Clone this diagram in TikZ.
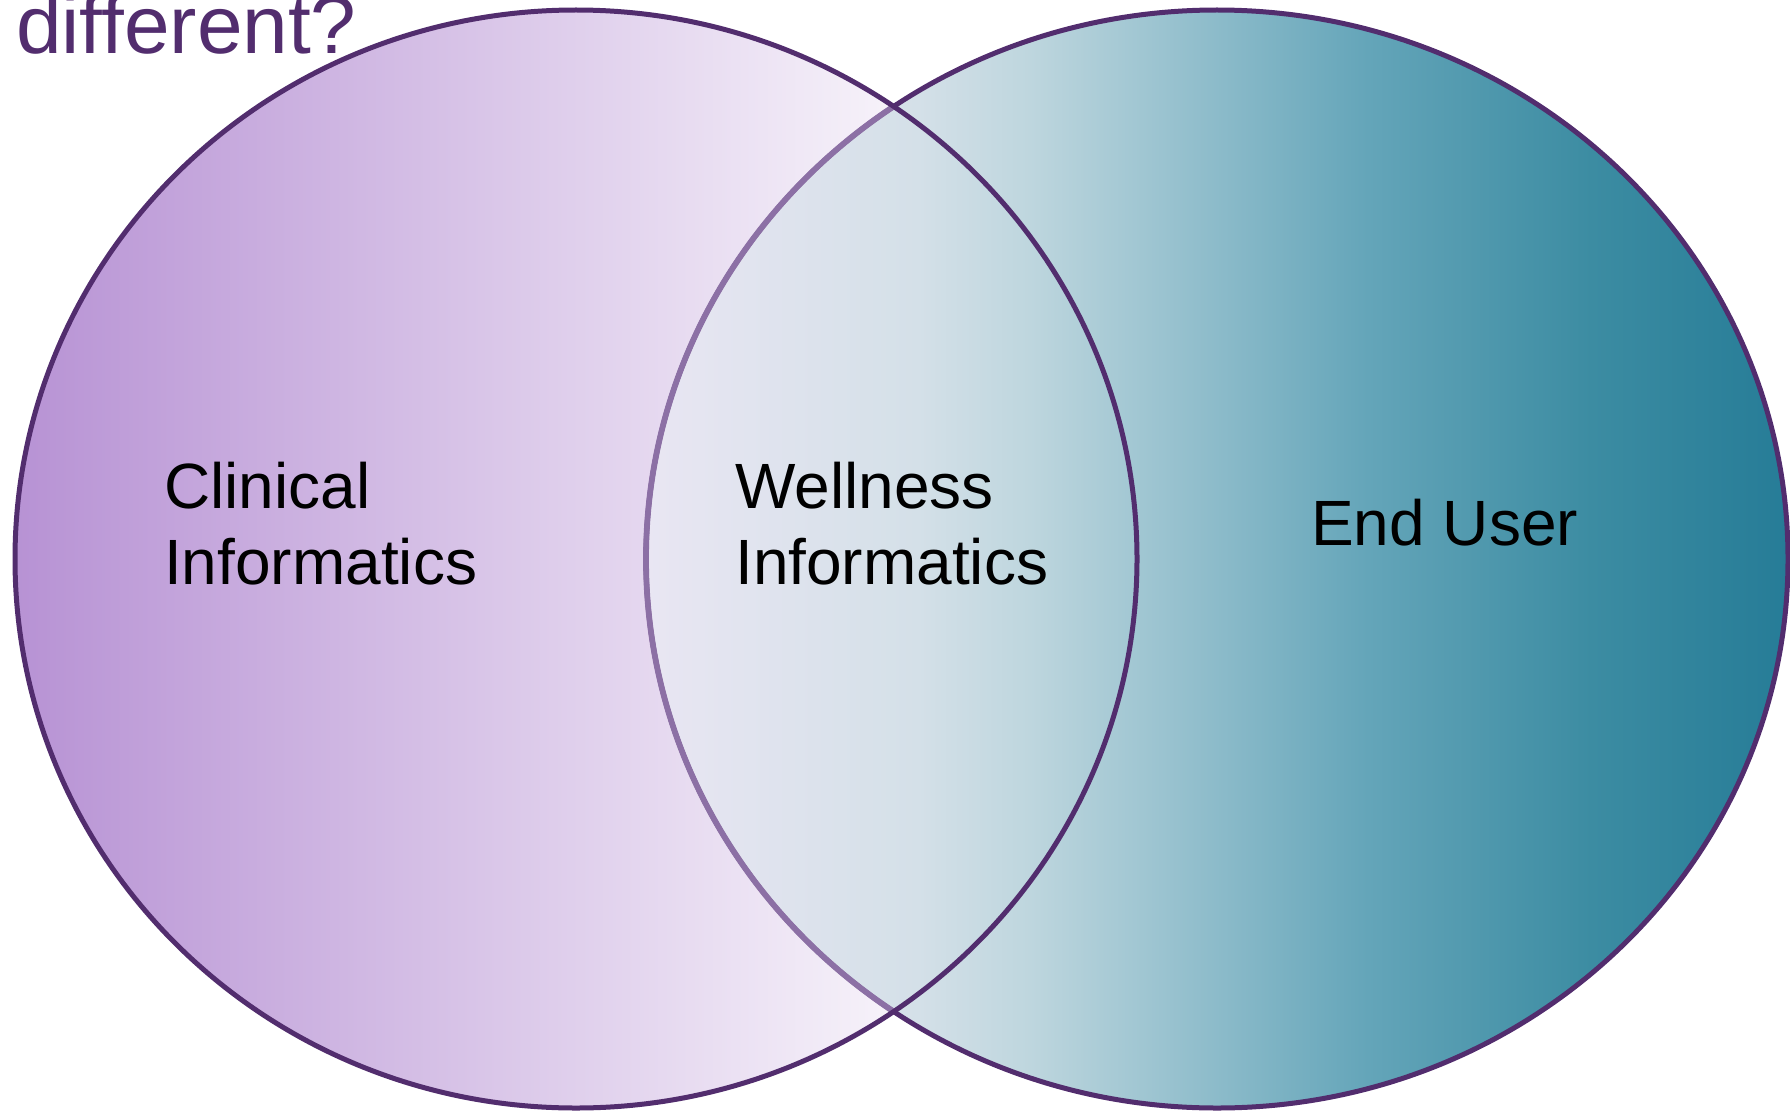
\documentclass[tikz,border=0pt]{standalone}
\usepackage{fontspec}
\setmainfont{Liberation Sans}
\definecolor{outline}{RGB}{82,45,110}
\definecolor{innerline}{RGB}{140,112,165}
\definecolor{La}{RGB}{183,146,212}
\definecolor{Lb}{RGB}{247,243,250}
\definecolor{Lc}{RGB}{250,248,252}
\definecolor{Ra}{RGB}{233,230,243}
\definecolor{Rb}{RGB}{212,224,232}
\definecolor{Rc}{RGB}{190,214,222}
\definecolor{Rd}{RGB}{160,198,210}
\definecolor{Re}{RGB}{100,165,185}
\definecolor{Rf}{RGB}{60,140,162}
\definecolor{Rg}{RGB}{38,124,151}
\pgfdeclarehorizontalshading{leftshade}{100bp}{color(0bp)=(La); color(25bp)=(La); color(64.4bp)=(Lb); color(75bp)=(Lc); color(100bp)=(Lc)}
\pgfdeclarehorizontalshading{rightshade}{100bp}{color(0bp)=(Ra); color(25bp)=(Ra); color(36.9bp)=(Rb); color(41.8bp)=(Rc); color(46.7bp)=(Rd); color(56.6bp)=(Re); color(66.4bp)=(Rf); color(75bp)=(Rg); color(100bp)=(Rg)}
\tikzset{
  outl/.style={draw=outline, line width=5pt},
  lbl/.style={font=\fontsize{64}{77}\selectfont, text=black, inner sep=0pt, anchor=base west},
  title/.style={font=\fontsize{82}{98}\selectfont, text=outline, inner sep=0pt, anchor=base west}
}
\begin{document}
\begin{tikzpicture}[x=1pt,y=-1pt]
\useasboundingbox (0,0) rectangle (1790,1113);
% fills
\shade[shading=leftshade] (576,559) ellipse [x radius=561pt, y radius=549pt];
\shade[shading=rightshade] (1217,559) ellipse [x radius=571pt, y radius=549pt];
% right outline: dark outside the left circle, light inside it
\draw[outl] (1217,559) ellipse [x radius=571pt, y radius=549pt];
\begin{scope}
  \clip (576,559) ellipse [x radius=561pt, y radius=549pt];
  \draw[draw=innerline, line width=5.8pt] (1217,559) ellipse [x radius=571pt, y radius=549pt];
\end{scope}
% left outline
\draw[outl] (576,559) ellipse [x radius=561pt, y radius=549pt];
% texts
\node[title] (ttl) at (16,54) {different?};
\node[lbl] (clin1) at (164,508) {Clinical};
\node[lbl] (clin2) at (164,584) {Informatics};
\node[lbl] (well1) at (735,508) {Wellness};
\node[lbl] (well2) at (735,584) {Informatics};
\node[lbl] (end) at (1311,545) {End User};
\end{tikzpicture}
\end{document}
